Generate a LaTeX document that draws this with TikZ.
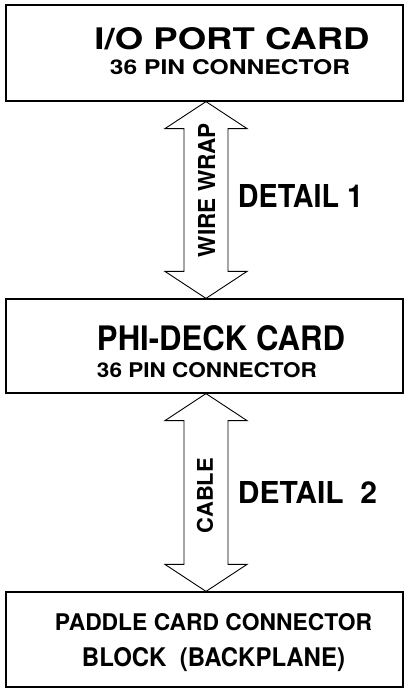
\documentclass[tikz,border=0pt]{standalone}
\usepackage{fontspec}
\setmainfont{TeX Gyre Heros}
\usepackage{graphicx}
\usetikzlibrary{calc}
\begin{document}
\begin{tikzpicture}[x=1pt,y=-1pt,
  box/.style={draw,line width=1.2pt},
  arr/.style={draw,line width=0.9pt,line join=miter},
  lbl/.style={inner sep=0pt,anchor=base},
  vlbl/.style={inner sep=0pt,rotate=90}]
\newcommand{\fit}[3]{\resizebox{#1pt}{#2pt}{\bfseries #3}}
\useasboundingbox (0,0) rectangle (409,692);
% boxes
\node[box,minimum width=397pt,minimum height=96pt,inner sep=0pt] (io) at (204.5,53) {};
\node[box,minimum width=397pt,minimum height=94pt,inner sep=0pt] (phi) at (204.5,346) {};
\node[box,minimum width=397pt,minimum height=95pt,inner sep=0pt] (pad) at (204.5,639.5) {};
% texts
\node[lbl] (t1) at (232,50) {\fit{275}{22}{I/O PORT CARD}};
\node[lbl] (t2) at (230,75) {\fit{240}{15}{36 PIN CONNECTOR}};
\node[lbl] (t3) at (221,350) {\fit{248}{25}{PHI-DECK CARD}};
\node[lbl] (t4) at (207,377) {\fit{220}{15}{36 PIN CONNECTOR}};
\node[lbl] (t5) at (213.5,630) {\fit{317}{17}{PADDLE CARD CONNECTOR}};
\node[lbl] (t6) at (213.5,666) {\fit{263}{19}{BLOCK\ \ (BACKPLANE)}};
\node[lbl] (d1) at (300.5,208) {\fit{125}{23}{DETAIL 1}};
\node[lbl] (d2) at (307.5,503) {\fit{139}{22}{DETAIL\ \ 2}};
% arrows
\coordinate (a1t) at (io.south -| 206,0);
\coordinate (a1b) at (phi.north -| 206,0);
\coordinate (a2t) at (phi.south -| 206,0);
\coordinate (a2b) at (pad.north -| 206,0);
\draw[arr] (a1t) -- ++(41,27) -- ++(-19,0) |- ($(a1b)+(22,-27)$) -- ++(19,0) -- (a1b)
  -- ++(-41,-27) -- ++(19,0) |- ($(a1t)+(-22,27)$) -- ++(-19,0) -- cycle;
\draw[arr] (a2t) -- ++(41,27) -- ++(-19,0) |- ($(a2b)+(22,-27)$) -- ++(19,0) -- (a2b)
  -- ++(-41,-27) -- ++(19,0) |- ($(a2t)+(-22,27)$) -- ++(-19,0) -- cycle;
\node[vlbl] (w1) at (206.5,190) {\fit{134}{17}{WIRE WRAP}};
\node[vlbl] (w2) at (205,495.5) {\fit{75}{16}{CABLE}};
\end{tikzpicture}
\end{document}
